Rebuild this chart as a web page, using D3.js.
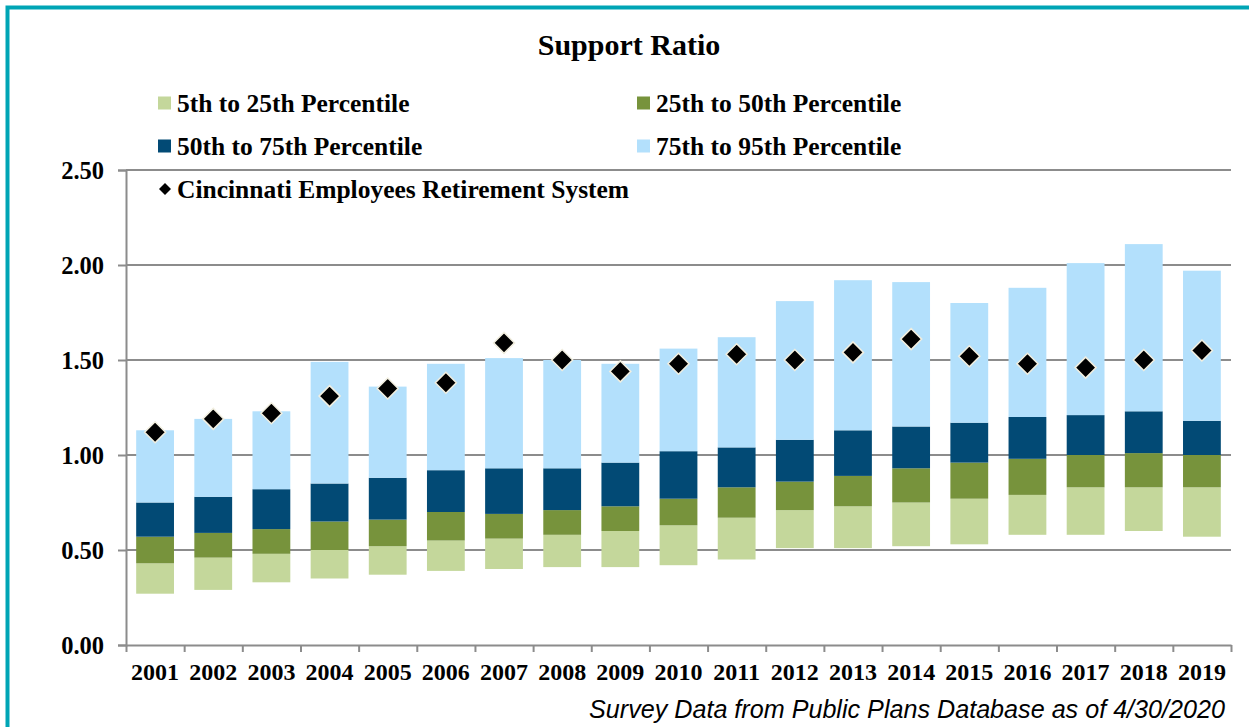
<!DOCTYPE html>
<html>
<head>
<meta charset="utf-8">
<style>
  body { margin: 0; background: #fff; }
  svg { display: block; }
  .serif { font-family: "Liberation Serif", "Times New Roman", serif; font-weight: bold; fill: #000; }
</style>
</head>
<body>
<div class="chart"></div>
<script src="https://d3js.org/d3.v7.min.js"></script>
<script>
  // data
  const years = ['2001','2002','2003','2004','2005','2006','2007','2008','2009','2010',
                 '2011','2012','2013','2014','2015','2016','2017','2018','2019']
  const p5  = [0.27, 0.29, 0.33, 0.35, 0.37, 0.39, 0.40, 0.41, 0.41, 0.42, 0.45, 0.51, 0.51, 0.52, 0.53, 0.58, 0.58, 0.60, 0.57]
  const p25 = [0.43, 0.46, 0.48, 0.50, 0.52, 0.55, 0.56, 0.58, 0.60, 0.63, 0.67, 0.71, 0.73, 0.75, 0.77, 0.79, 0.83, 0.83, 0.83]
  const p50 = [0.57, 0.59, 0.61, 0.65, 0.66, 0.70, 0.69, 0.71, 0.73, 0.77, 0.83, 0.86, 0.89, 0.93, 0.96, 0.98, 1.00, 1.01, 1.00]
  const p75 = [0.75, 0.78, 0.82, 0.85, 0.88, 0.92, 0.93, 0.93, 0.96, 1.02, 1.04, 1.08, 1.13, 1.15, 1.17, 1.20, 1.21, 1.23, 1.18]
  const p95 = [1.13, 1.19, 1.23, 1.49, 1.36, 1.48, 1.51, 1.50, 1.48, 1.56, 1.62, 1.81, 1.92, 1.91, 1.80, 1.88, 2.01, 2.11, 1.97]
  const cincinnati = [1.12, 1.19, 1.22, 1.31, 1.35, 1.38, 1.59, 1.50, 1.44, 1.48, 1.53, 1.50, 1.54, 1.61, 1.52, 1.48, 1.46, 1.50, 1.55]
  const yTicks = [0, 0.5, 1.0, 1.5, 2.0, 2.5]

  const seriesNames = ['5th to 25th Percentile', '25th to 50th Percentile',
                       '50th to 75th Percentile', '75th to 95th Percentile']
  const seriesColors = ['#c4d79b', '#77933c', '#024a75', '#b3e0fc']
  const bounds = [p5, p25, p50, p75, p95]

  const width = 1249, height = 727
  const plotLeft = 126, plotRight = 1231, plotTop = 170, plotBottom = 645

  const svg = d3.select('.chart').append('svg')
                .attr('width', width)
                .attr('height', height)

  // teal frame (runs off right / bottom edge)
  svg.append('rect')
     .attr('x', 7.5).attr('y', 7.5)
     .attr('width', width + 20).attr('height', height + 20)
     .attr('fill', 'none')
     .attr('stroke', '#00a5b5')
     .attr('stroke-width', 4)

  // title
  svg.append('text')
     .attr('class', 'serif')
     .attr('x', 629).attr('y', 55)
     .attr('text-anchor', 'middle')
     .style('font-size', '30px')
     .text('Support Ratio')

  const xScale = d3.scaleBand()
                   .domain(years)
                   .range([plotLeft, plotRight])
                   .paddingInner(0.35)
                   .paddingOuter(0.175)

  const yScale = d3.scaleLinear()
                   .domain([0, 2.5])
                   .range([plotBottom, plotTop])

  // gridlines
  svg.append('g')
     .selectAll('line')
     .data(yTicks.filter(d => d > 0))
     .join('line')
     .attr('x1', plotLeft).attr('x2', plotRight)
     .attr('y1', d => yScale(d)).attr('y2', d => yScale(d))
     .attr('stroke', '#8c8c8c')
     .attr('stroke-width', 2)

  // bars
  for (let s = 0; s < 4; s++) {
    svg.append('g')
       .selectAll('rect')
       .data(years)
       .join('rect')
       .attr('x', d => xScale(d))
       .attr('width', xScale.bandwidth())
       .attr('y', (d, i) => yScale(bounds[s + 1][i]))
       .attr('height', (d, i) => yScale(bounds[s][i]) - yScale(bounds[s + 1][i]))
       .attr('fill', seriesColors[s])
  }

  // y axis
  const yAxis = d3.axisLeft(yScale)
                  .tickValues(yTicks)
                  .tickSize(8)
                  .tickPadding(14)
                  .tickFormat(d3.format('.2f'))
  const yAxisGroup = svg.append('g')
                        .attr('transform', `translate(${plotLeft},0)`)
                        .call(yAxis)
  yAxisGroup.select('.domain').attr('stroke', '#8c8c8c').attr('stroke-width', 2)
  yAxisGroup.selectAll('.tick line').attr('stroke', '#8c8c8c').attr('stroke-width', 2)
  yAxisGroup.selectAll('text')
            .attr('class', 'serif')
            .style('font-size', '24.5px')
            .attr('dy', '0.33em')

  // x axis: ticks on category boundaries
  const boundaryScale = d3.scaleLinear().domain([0, years.length]).range([plotLeft, plotRight])
  const xTickAxis = d3.axisBottom(boundaryScale)
                      .tickValues(d3.range(years.length + 1))
                      .tickSize(7)
                      .tickSizeOuter(0)
                      .tickFormat('')
  const xTickGroup = svg.append('g')
                        .attr('transform', `translate(0,${plotBottom})`)
                        .call(xTickAxis)
  xTickGroup.select('.domain').attr('stroke', '#8c8c8c').attr('stroke-width', 2)
  xTickGroup.selectAll('.tick line').attr('stroke', '#8c8c8c').attr('stroke-width', 2)

  // x labels
  const xAxis = d3.axisBottom(xScale).tickSize(0).tickPadding(18)
  const xAxisGroup = svg.append('g')
                        .attr('transform', `translate(0,${plotBottom})`)
                        .call(xAxis)
  xAxisGroup.select('.domain').remove()
  xAxisGroup.selectAll('text')
            .attr('class', 'serif')
            .style('font-size', '24px')

  // Cincinnati diamonds
  const diamond = 'M0,-10.5L10.5,0L0,10.5L-10.5,0Z'
  svg.append('g')
     .selectAll('path')
     .data(years)
     .join('path')
     .attr('d', diamond)
     .attr('transform', (d, i) => `translate(${xScale(d) + xScale.bandwidth() / 2},${yScale(cincinnati[i])})`)
     .attr('fill', '#000')
     .attr('stroke', '#f2efe0')
     .attr('stroke-width', 1.5)

  // legend
  const legendPos = [[158, 103], [637, 103], [158, 146], [637, 146]]
  seriesNames.forEach((name, i) => {
    const g = svg.append('g').attr('transform', `translate(${legendPos[i][0]},${legendPos[i][1]})`)
    g.append('rect').attr('x', 0).attr('y', -6.5).attr('width', 13).attr('height', 13)
     .attr('fill', seriesColors[i])
    g.append('text').attr('class', 'serif').attr('x', 19).attr('y', 0).attr('dy', '0.35em')
     .style('font-size', '25.5px').text(name)
  })
  const lg = svg.append('g').attr('transform', 'translate(165,189)')
  lg.append('path').attr('d', 'M0,-6L6,0L0,6L-6,0Z').attr('fill', '#000')
  lg.append('text').attr('class', 'serif').attr('x', 12).attr('y', 0).attr('dy', '0.35em')
    .style('font-size', '25.5px').text('Cincinnati Employees Retirement System')

  // footnote (condensed italic sans)
  svg.append('text')
     .attr('x', 589).attr('y', 718)
     .attr('textLength', 636)
     .attr('lengthAdjust', 'spacingAndGlyphs')
     .style('font-family', '"Liberation Sans", Arial, sans-serif')
     .style('font-style', 'italic')
     .style('font-size', '26px')
     .text('Survey Data from Public Plans Database as of 4/30/2020')
</script>
</body>
</html>
